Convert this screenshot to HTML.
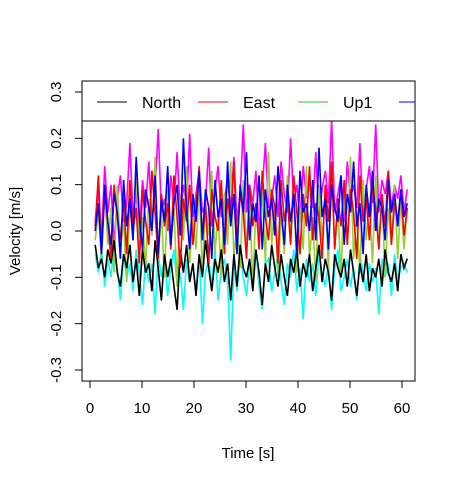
<!DOCTYPE html>
<html><head><meta charset="utf-8"><style>
body{margin:0;background:#fff}
svg text{font-family:"Liberation Sans",sans-serif;fill:#000}
</style></head><body>
<svg id="c" width="456" height="483" xmlns="http://www.w3.org/2000/svg">
<defs><clipPath id="pc"><rect x="82" y="81" width="333" height="300"/></clipPath></defs>
<g id="series" clip-path="url(#pc)"></g>
<rect x="82" y="81" width="333" height="300" fill="none" stroke="#000"/>
<g id="axes"></g>
<text x="248" y="458" font-size="15" text-anchor="middle">Time [s]</text>
<text transform="translate(20,231) rotate(-90)" font-size="15" text-anchor="middle">Velocity [m/s]</text>
<g>
<rect x="82" y="81" width="333" height="40" fill="#fff" stroke="#000"/>
<line x1="97" y1="102" x2="127" y2="102" stroke="#000"/>
<text x="142" y="108" font-size="16">North</text>
<line x1="198" y1="102" x2="228" y2="102" stroke="#f00"/>
<text x="243" y="108" font-size="16">East</text>
<line x1="298" y1="102" x2="328" y2="102" stroke="#2c2"/>
<text x="343" y="108" font-size="16">Up1</text>
<line x1="399" y1="102" x2="415" y2="102" stroke="#00f"/>
</g>
</svg>
<script>
const xTicks=[0,10,20,30,40,50,60];
const yTicks=[-0.3,-0.2,-0.1,0.0,0.1,0.2,0.3];
const yTickLabels=["-0.3","-0.2","-0.1","0.0","0.1","0.2","0.3"];
const seriesColors=["#00ffff","#ff00ff","#9acd32","#000000","#ff0000","#0000ff"];
const cyanVals=[-0.05,-0.09,-0.04,-0.12,-0.06,-0.1,-0.03,-0.08,-0.15,-0.05,-0.1,-0.07,-0.13,-0.04,-0.09,-0.16,-0.06,-0.11,-0.07,-0.18,-0.05,-0.1,-0.06,-0.14,-0.08,-0.04,-0.12,-0.09,-0.17,-0.06,-0.11,-0.07,-0.13,-0.05,-0.2,-0.09,-0.06,-0.12,-0.04,-0.15,-0.08,-0.06,-0.11,-0.28,-0.07,-0.13,-0.05,-0.1,-0.14,-0.07,-0.09,-0.04,-0.12,-0.17,-0.07,-0.06,-0.13,-0.09,-0.05,-0.11,-0.16,-0.07,-0.1,-0.04,-0.13,-0.08,-0.19,-0.06,-0.11,-0.07,-0.14,-0.05,-0.09,-0.12,-0.07,-0.17,-0.08,-0.04,-0.13,-0.1,-0.06,-0.12,-0.08,-0.15,-0.05,-0.09,-0.13,-0.07,-0.11,-0.08,-0.18,-0.06,-0.1,-0.07,-0.14,-0.05,-0.11,-0.08,-0.07,-0.09];
const magentaVals=[0.02,0.09,-0.02,0.14,0.04,0.1,-0.03,0.07,0.12,0.01,0.06,0.19,0.03,0.08,-0.01,0.11,0.05,0.15,0.02,0.09,0.22,0.04,0.07,0.0,0.12,0.06,0.17,0.03,0.1,0.05,0.21,0.02,0.08,0.13,0.04,0.06,0.18,0.01,0.09,0.14,0.03,0.07,0.11,0.05,0.16,0.02,0.08,0.23,0.04,0.1,0.06,0.13,0.0,0.09,0.19,0.05,0.07,0.12,0.03,0.15,0.08,0.04,0.2,0.06,0.1,0.02,0.14,0.07,0.11,0.05,0.17,0.03,0.09,0.13,0.06,0.24,0.04,0.08,0.12,0.02,0.15,0.07,0.1,0.05,0.19,0.03,0.09,0.14,0.06,0.23,0.04,0.11,0.08,0.13,0.05,0.1,0.07,0.12,0.04,0.09];
const up1Vals=[-0.02,0.04,-0.06,0.08,-0.03,0.05,-0.09,0.1,-0.04,0.02,-0.11,0.06,-0.02,0.12,-0.05,0.03,-0.08,0.07,-0.01,0.16,-0.06,0.04,-0.1,0.09,-0.03,0.05,-0.12,0.08,-0.02,0.14,-0.07,0.03,-0.04,0.1,-0.09,0.06,-0.01,0.13,-0.05,0.04,-0.1,0.08,-0.03,0.15,-0.06,0.02,-0.08,0.11,-0.04,0.07,-0.12,0.05,-0.02,0.09,-0.07,0.17,-0.03,0.06,-0.1,0.04,-0.05,0.12,-0.02,0.08,-0.09,0.05,-0.04,0.14,-0.06,0.03,-0.11,0.1,-0.02,0.07,-0.08,0.13,-0.04,0.05,-0.1,0.09,-0.03,0.16,-0.06,0.04,-0.09,0.11,-0.02,0.06,-0.07,0.12,-0.04,0.08,-0.1,0.05,-0.03,0.1,-0.06,0.07,-0.04,0.05];
const northVals=[-0.03,-0.08,-0.06,-0.1,-0.04,-0.07,-0.02,-0.09,-0.12,-0.05,-0.08,-0.03,-0.11,-0.06,-0.14,-0.04,-0.09,-0.07,-0.13,-0.02,-0.08,-0.15,-0.05,-0.1,-0.06,-0.12,-0.17,-0.04,-0.09,-0.03,-0.11,-0.07,-0.14,-0.05,-0.1,-0.02,-0.08,-0.13,-0.06,-0.09,-0.04,-0.11,-0.07,-0.15,-0.05,-0.12,-0.03,-0.08,-0.1,-0.06,-0.13,-0.04,-0.09,-0.16,-0.07,-0.11,-0.03,-0.08,-0.12,-0.05,-0.1,-0.14,-0.06,-0.09,-0.04,-0.12,-0.07,-0.1,-0.05,-0.13,-0.08,-0.03,-0.11,-0.06,-0.09,-0.15,-0.05,-0.08,-0.1,-0.06,-0.12,-0.04,-0.09,-0.14,-0.07,-0.11,-0.05,-0.13,-0.08,-0.1,-0.06,-0.12,-0.04,-0.09,-0.11,-0.07,-0.13,-0.05,-0.08,-0.06];
const eastVals=[0.01,0.12,-0.04,0.08,0.02,-0.06,0.1,0.03,-0.02,0.07,-0.05,0.11,0.0,0.05,-0.07,0.09,0.02,-0.03,0.13,0.04,-0.06,0.08,0.01,0.06,-0.04,0.12,0.03,-0.08,0.07,0.02,0.1,-0.03,0.05,0.14,-0.02,0.06,-0.07,0.09,0.03,0.0,0.11,-0.05,0.07,0.02,0.15,-0.03,0.08,0.04,-0.06,0.1,0.01,0.06,-0.04,0.13,0.03,-0.02,0.09,0.05,-0.07,0.11,0.02,0.07,-0.03,0.12,0.04,-0.05,0.08,0.01,0.14,-0.02,0.06,0.03,-0.06,0.1,0.02,0.15,-0.04,0.07,0.01,0.11,-0.03,0.09,0.04,-0.06,0.12,0.02,0.07,-0.02,0.1,0.05,-0.04,0.08,0.01,0.13,-0.03,0.06,0.02,0.09,-0.01,0.05];
const up2Vals=[0.0,0.06,-0.05,0.1,0.02,-0.03,0.08,0.04,-0.06,0.11,0.01,0.07,-0.02,0.16,0.03,-0.04,0.09,0.05,0.0,0.12,-0.05,0.07,0.02,0.14,-0.03,0.06,0.1,-0.01,0.2,0.04,-0.04,0.08,0.02,0.13,-0.02,0.09,0.05,-0.06,0.11,0.03,0.07,-0.03,0.15,0.01,0.08,-0.05,0.1,0.04,0.17,-0.02,0.06,0.02,0.12,-0.04,0.09,0.03,0.07,-0.01,0.14,0.05,-0.03,0.1,0.02,0.08,-0.05,0.13,0.04,0.06,0.0,0.11,-0.02,0.18,0.03,0.07,-0.04,0.1,0.05,0.02,0.12,-0.03,0.08,0.04,0.15,0.01,0.06,-0.05,0.1,0.03,0.13,0.0,0.07,0.05,-0.02,0.11,0.04,0.08,0.01,0.09,0.03,0.06];
const seriesNames=["cyan-series","magenta-series","up1-series","north-series","east-series","up2-series"];
const seriesData=[cyanVals,magentaVals,up1Vals,northVals,eastVals,up2Vals];
const tStart=1, tEnd=61;
const NS="http://www.w3.org/2000/svg";
function xs(t){return 90+(t-0)*(312/60);}
function ys(v){return 231-v*(139/0.3);}
const sg=document.getElementById('series');
seriesData.forEach((vals,k)=>{
  const n=vals.length;
  const pts=vals.map((v,i)=>xs(tStart+(tEnd-tStart)*i/(n-1)).toFixed(1)+','+ys(v).toFixed(1)).join(' ');
  const pl=document.createElementNS(NS,'polyline');
  pl.setAttribute('points',pts);
  pl.setAttribute('fill','none');
  pl.setAttribute('stroke',seriesColors[k]);
  pl.setAttribute('stroke-width','1.6');
  
  
  sg.appendChild(pl);
});
const ax=document.getElementById('axes');
function mk(tag,attrs){const e=document.createElementNS(NS,tag);for(const k in attrs)e.setAttribute(k,attrs[k]);ax.appendChild(e);return e;}
const xl=mk('line',{x1:xs(0),x2:xs(60),y1:381,y2:381,stroke:'#000'});


xTicks.forEach(t=>{
  const l=mk('line',{x1:xs(t),x2:xs(t),y1:381,y2:388,stroke:'#000'});
  
  
  const tx=mk('text',{x:xs(t),y:413,'font-size':15,'text-anchor':'middle'});
  tx.textContent=t;
  
  
});
const yl=mk('line',{x1:82,x2:82,y1:ys(0.3),y2:ys(-0.3),stroke:'#000'});


yTicks.forEach((v,i)=>{
  const l=mk('line',{x1:75,x2:82,y1:ys(v),y2:ys(v),stroke:'#000'});
  
  
  const tx=mk('text',{x:0,y:0,'font-size':15,'text-anchor':'middle',transform:`translate(61,${ys(v)}) rotate(-90)`});
  tx.textContent=yTickLabels[i];
  
  
});
</script>
</body></html>
